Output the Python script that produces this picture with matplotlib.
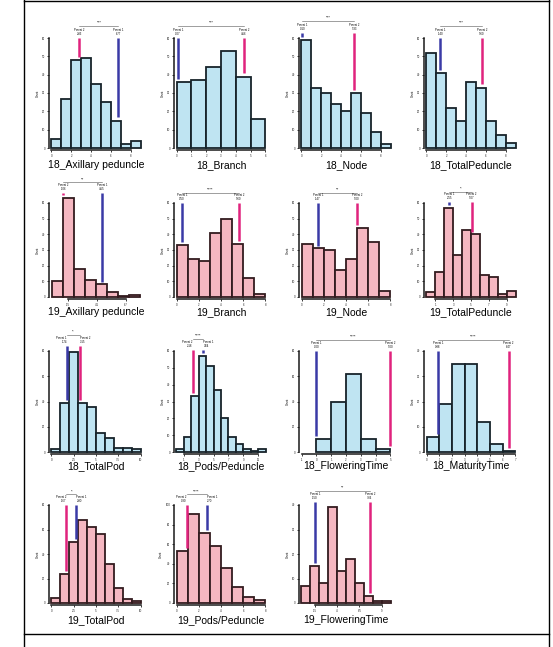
import matplotlib
matplotlib.use("Agg")
import matplotlib.pyplot as plt
from matplotlib.lines import Line2D
import numpy as np

plt.rcParams["font.family"] = ["Liberation Sans", "DejaVu Sans"]

W, H = 553, 647

names = [
    "18_Axillary peduncle", "18_Branch", "18_Node", "18_TotalPeduncle",
    "19_Axillary peduncle", "19_Branch", "19_Node", "19_TotalPeduncle",
    "18_TotalPod", "18_Pods/Peduncle", "18_FloweringTime", "18_MaturityTime",
    "19_TotalPod", "19_Pods/Peduncle", "19_FloweringTime",
]

counts = [
    [5, 27, 48, 49, 35, 25, 15, 2, 4],
    [36, 37, 44, 53, 39, 16],
    [59, 33, 30, 24, 20, 30, 19, 9, 2],
    [52, 41, 22, 15, 36, 33, 15, 7, 3],
    [10, 63, 18, 11, 8, 3, 0.4, 1],
    [33, 24, 23, 41, 50, 34, 12, 2],
    [34, 31, 30, 17, 24, 44, 35, 4],
    [3, 16, 57, 27, 43, 40, 14, 13, 2, 4],
    [2, 39, 79, 39, 36, 15, 11, 3, 3, 2],
    [2, 9, 33, 57, 51, 37, 20, 9, 5, 2, 0.5, 2],
    [10, 40, 62, 10, 2],
    [6, 19, 35, 35, 12, 3, 0.4],
    [4, 24, 50, 68, 62, 56, 32, 12, 3, 2],
    [53, 91, 71, 58, 36, 16, 6, 3],
    [7, 15, 8, 39, 13, 18, 8, 3, 1, 1],
]

# y-axis top tick per panel
ymax = [60, 60, 60, 60, 60, 60, 60, 60, 80, 60, 80, 40, 80, 100, 40]
ystep = [10, 10, 10, 10, 10, 10, 10, 10, 20, 10, 20, 10, 20, 20, 10]

# parent means, in bin units
blue_pos = [6.77, 0.07, 0.1, 1.4, 4.55, 0.5, 1.47, 2.55, 1.74, 3.64, 0.0, 0.88, 2.8, 2.7, 1.5]
pink_pos = [2.83, 4.56, 5.33, 5.6, 1.06, 5.6, 5.0, 5.07, 3.15, 2.18, 5.0, 6.47, 1.67, 0.9, 7.66]

xticks = [
    [0, 2, 4, 6, 8], [0, 1, 2, 3, 4, 5, 6], [0, 2, 4, 6, 8], [0, 2, 4, 6, 8],
    [1.5, 4.1, 6.7], [0, 2, 4, 6, 8], [0, 2, 4, 6, 8], [1, 3, 5, 7, 9],
    [0, 2.5, 5, 7.5, 10], [1, 3, 5, 7, 9, 11], [-1, 0, 1, 2, 3, 4, 5], [0, 1, 2, 3, 4, 5, 6, 7],
    [0, 2.5, 5, 7.5, 10], [0, 2, 4, 6, 8], [1.5, 4, 6.5, 9],
]
xstart = [0, 0, 0, 0, 0, 0, 0, 0, 0, 0, -1, 0, 0, 0, 0]

stars = ["***", "***", "***", "***", "**", "****", "**", "*",
         "*", "****", "****", "****", "*", "****", "**"]
blue_lab = "Parent 1\n{:.2f}"
pink_lab = "Parent 2\n{:.2f}"

col_left = [51, 176, 301, 426]
row_top = [38, 203, 351, 505]
row_bot = [148, 297, 452, 603]
row_lab = [165, 312, 466, 620]
PW = 90

fills = {"18": ("#bfe4f2", "#17232a"), "19": ("#f5b7c1", "#331b1f")}
BLUE = "#3a3aa6"
PINK = "#e0237d"

fig = plt.figure(figsize=(W / 100, H / 100), dpi=100)

for i, name in enumerate(names):
    r, c = divmod(i, 4)
    ax = fig.add_axes([col_left[c] / W, 1 - row_bot[r] / H, PW / W,
                       (row_bot[r] - row_top[r]) / H])
    cnt = np.array(counts[i], dtype=float)
    n = len(cnt)
    fc, ec = fills[name[:2]]
    ax.bar(np.arange(n), cnt, width=1, align="edge", color=fc, edgecolor=ec,
           linewidth=1.3, clip_on=False)
    ax.set_xlim(xstart[i] - 0.05, n + 0.05)
    ym = ymax[i]
    ax.set_ylim(0, ym)
    ax.set_yticks(np.arange(0, ym + 0.1, ystep[i]))
    ax.set_xticks(xticks[i])
    ax.set_xticklabels([f"{t:g}" for t in xticks[i]])
    for s in ("top", "right"):
        ax.spines[s].set_visible(False)
    for s in ("left", "bottom"):
        ax.spines[s].set_position(("outward", 1.5))
        ax.spines[s].set_linewidth(1.1)
        ax.spines[s].set_color("#1a1a1a")
    ax.spines["bottom"].set_bounds(xticks[i][0], xticks[i][-1])
    ax.tick_params(length=1.5, width=0.6, labelsize=2, pad=1, colors="#1a1a1a")
    ax.set_ylabel("Count", fontsize=2, labelpad=2)

    base = max(1.0, cnt.max() / ym + 0.06)
    tr = ax.get_xaxis_transform()
    lo = min(blue_pos[i], pink_pos[i])
    hi = max(blue_pos[i], pink_pos[i])
    close = (hi - lo) < 0.25 * n
    for pos, col, lab in ((blue_pos[i], BLUE, blue_lab), (pink_pos[i], PINK, pink_lab)):
        k = min(int(pos), n - 1)
        bottom = cnt[k] + 0.03 * ym
        ax.plot([pos, pos], [base * ym, bottom], color=col, lw=1.8,
                solid_capstyle="butt", clip_on=False, zorder=5)
        ha = "center"
        if close:
            ha = "right" if pos == lo else "left"
        ax.text(pos, base + 0.02, lab.format(pos), transform=tr,
                fontsize=2, ha=ha, va="bottom", linespacing=1.0)
    ax.plot([lo, hi], [base + 0.11, base + 0.11], color="#555555", lw=0.4,
            transform=tr, clip_on=False)
    ax.text((lo + hi) / 2, base + 0.12, stars[i], transform=tr, fontsize=3,
            ha="center", va="bottom")

    fig.text((col_left[c] + PW / 2) / W, 1 - row_lab[r] / H, name,
             fontsize=7.5, ha="center", va="center")

# outer frame
for x in (24, 549):
    fig.add_artist(Line2D([x / W, x / W], [0, 1], color="black", lw=1.0))
for y in (1, 634):
    fig.add_artist(Line2D([24 / W, 549 / W], [1 - y / H, 1 - y / H], color="black", lw=1.0))

fig.savefig("out.png", dpi=100)
